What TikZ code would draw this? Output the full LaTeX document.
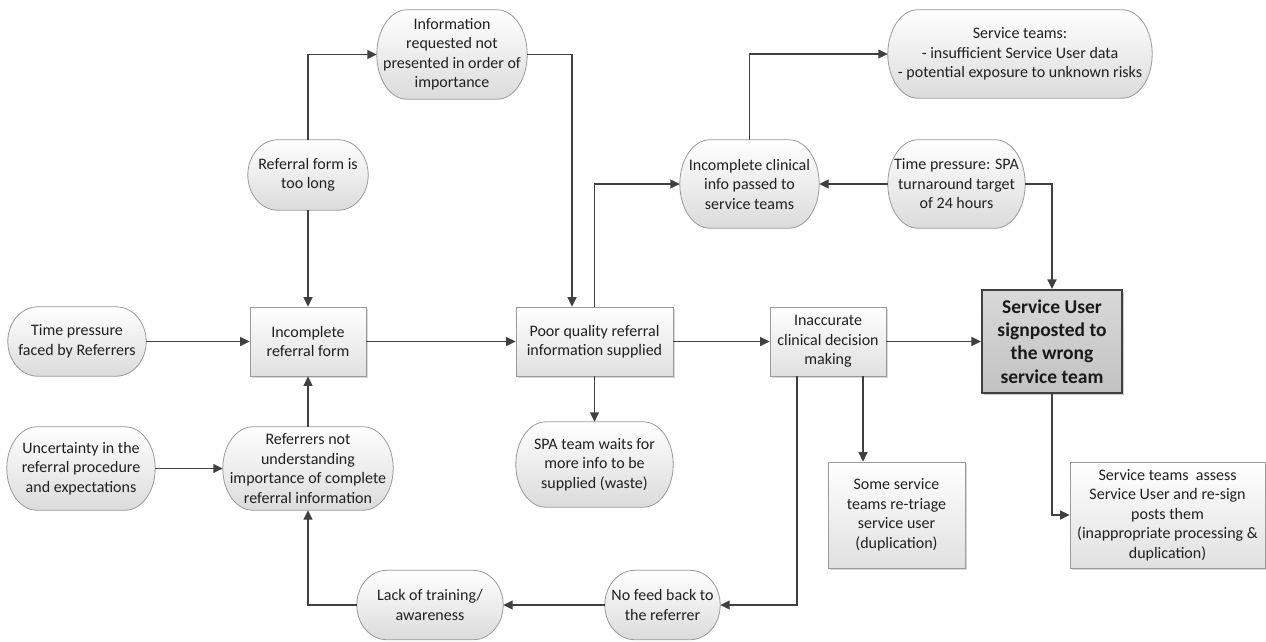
\documentclass[tikz,border=0pt]{standalone}
\usepackage{fontspec}
\setmainfont{Carlito}
\usetikzlibrary{arrows.meta,calc,shadows}
\pgfdeclarelayer{background}
\pgfsetlayers{background,main}
\definecolor{linec}{HTML}{404040}
\definecolor{bordc}{HTML}{9A9A9A}
\definecolor{txtc}{HTML}{202020}
\tikzset{
  base/.style={inner sep=0pt, align=center, text=txtc, font=\fontsize{16}{19.5}\selectfont},
  ovalnode/.style={base, rectangle},
  boxnode/.style={base, rectangle, draw=bordc, line width=0.8pt, top color=white, bottom color=black!12,
    drop shadow={shadow xshift=2pt, shadow yshift=-2pt, fill=black, opacity=0.15}},
  mainbox/.style={base, rectangle, draw=linec, line width=2.2pt, top color=black!15, bottom color=black!24,
    font=\fontsize{19.5}{23.3}\selectfont\bfseries, text=black!90,
    drop shadow={shadow xshift=2pt, shadow yshift=-2pt, fill=black, opacity=0.2}},
  conn/.style={draw=linec, line width=1.4pt, -{Triangle[length=9.5pt,width=9pt]}},
  ovalfill/.style={draw=bordc, line width=0.8pt, top color=white, bottom color=black!14},
  ovalshadow/.style={fill=black, opacity=0.13},
}
\newcommand\stadium[3]{%
  \path[#3] let \p1=(#1.north west), \p2=(#1.south east), \n1={(\y1-\y2)/2} in
    (\x1+#2pt,\y1) -- (\x2-#2pt,\y1)
    arc[start angle=90, end angle=-90, x radius=#2pt, y radius=\n1*1pt]
    -- (\x1+#2pt,\y2)
    arc[start angle=270, end angle=90, x radius=#2pt, y radius=\n1*1pt] -- cycle;%
}
\newcommand\ovl[1]{%
  \stadium{#1}{30}{ovalshadow,shift={(2pt,-2pt)}}%
  \stadium{#1}{30}{ovalfill}%
}
\begin{document}
\begin{tikzpicture}[x=1pt,y=-1pt]
\useasboundingbox (0,0) rectangle (1266,641);

% middle row
\node[ovalnode, minimum width=138pt, minimum height=69pt] (tpr) at (77,341.5) {Time pressure\\faced by Referrers};
\node[boxnode, minimum width=116pt, minimum height=69pt] (irf) at (308,341.5) {Incomplete\\referral form};
\node[boxnode, minimum width=157pt, minimum height=69pt] (pq) at (594.5,341.5) {Poor quality referral\\information supplied};
\node[boxnode, minimum width=116pt, minimum height=69pt] (icd) at (828,341.5) {Inaccurate\\clinical decision\\making};
\node[mainbox, minimum width=140pt, minimum height=103pt] (sus) at (1052,341.5) {Service User\\signposted to\\the wrong\\service team};

% lower rows
\node[ovalnode, minimum width=148pt, minimum height=83pt] (unc) at (81,468.5) {Uncertainty in the\\referral procedure\\and expectations};
\node[ovalnode, minimum width=170pt, minimum height=83pt] (rnu) at (308,468.5) {Referrers not\\understanding\\importance of complete\\referral information};
\node[ovalnode, minimum width=157pt, minimum height=85pt] (spa) at (594.5,464.5) {SPA team waits for\\more info to be\\supplied (waste)};
\node[boxnode, minimum width=137pt, minimum height=106pt] (sst) at (896.5,515) {Some service\\teams re-triage\\service user\\(duplication)};
\node[boxnode, minimum width=195pt, minimum height=106pt] (sta) at (1167.5,515) {Service teams~ assess\\Service User and re-sign\\posts them\\(inappropriate processing \&\\duplication)};
\node[ovalnode, minimum width=146pt, minimum height=69pt] (lot) at (430,605) {Lack of training/\\awareness};
\node[ovalnode, minimum width=115pt, minimum height=69pt] (nfb) at (662.5,605) {No feed back to\\the referrer};

% upper rows
\node[ovalnode, minimum width=120pt, minimum height=70pt] (rft) at (308,175) {Referral form is\\too long};
\node[ovalnode, minimum width=150pt, minimum height=89pt] (irq) at (452,54.5) {Information\\requested not\\presented in order of\\importance};
\node[ovalnode, minimum width=264pt, minimum height=88pt] (stm) at (1020,54) {Service teams:\\- insufficient Service User data\\- potential exposure to unknown risks};
\node[ovalnode, minimum width=139pt, minimum height=88pt] (ici) at (749.5,184) {Incomplete clinical\\info passed to\\service teams};
\node[ovalnode, minimum width=137pt, minimum height=88pt] (tps) at (956.5,184) {Time pressure: SPA\\turnaround target\\of 24 hours};

\begin{pgfonlayer}{background}
  \ovl{tpr}\ovl{unc}\ovl{rnu}\ovl{spa}\ovl{lot}\ovl{nfb}
  \ovl{rft}\ovl{irq}\ovl{stm}\ovl{ici}\ovl{tps}
\end{pgfonlayer}

% connectors
\draw[conn] (tpr.east) -- (irf.west);
\draw[conn] (irf.east) -- (pq.west);
\draw[conn] (pq.east) -- (icd.west);
\draw[conn] (icd.east) -- (sus.west);
\draw[conn] (rft.south) -- (irf.north);
\draw[conn] (rft.north) |- (irq.west);
\draw[conn] (irq.east) -| ([xshift=-22.5pt]pq.north);
\draw[conn] (pq.north) |- (ici.west);
\draw[conn] (ici.north) |- (stm.west);
\draw[conn] (tps.west) -- (ici.east);
\draw[conn] (tps.east) -| (sus.north);
\draw[conn] (pq.south) -- (spa.north);
\draw[conn] ([xshift=35pt]icd.south) -- ([xshift=35pt]icd.south |- sst.north);
\draw[conn] ([xshift=-31pt]icd.south) |- (nfb.east);
\draw[conn] (nfb.west) -- (lot.east);
\draw[conn] (lot.west) -| (rnu.south);
\draw[conn] (unc.east) -- (rnu.west);
\draw[conn] (rnu.north) -- (irf.south);
\draw[conn] (sus.south) |- (sta.west);
\end{tikzpicture}
\end{document}
